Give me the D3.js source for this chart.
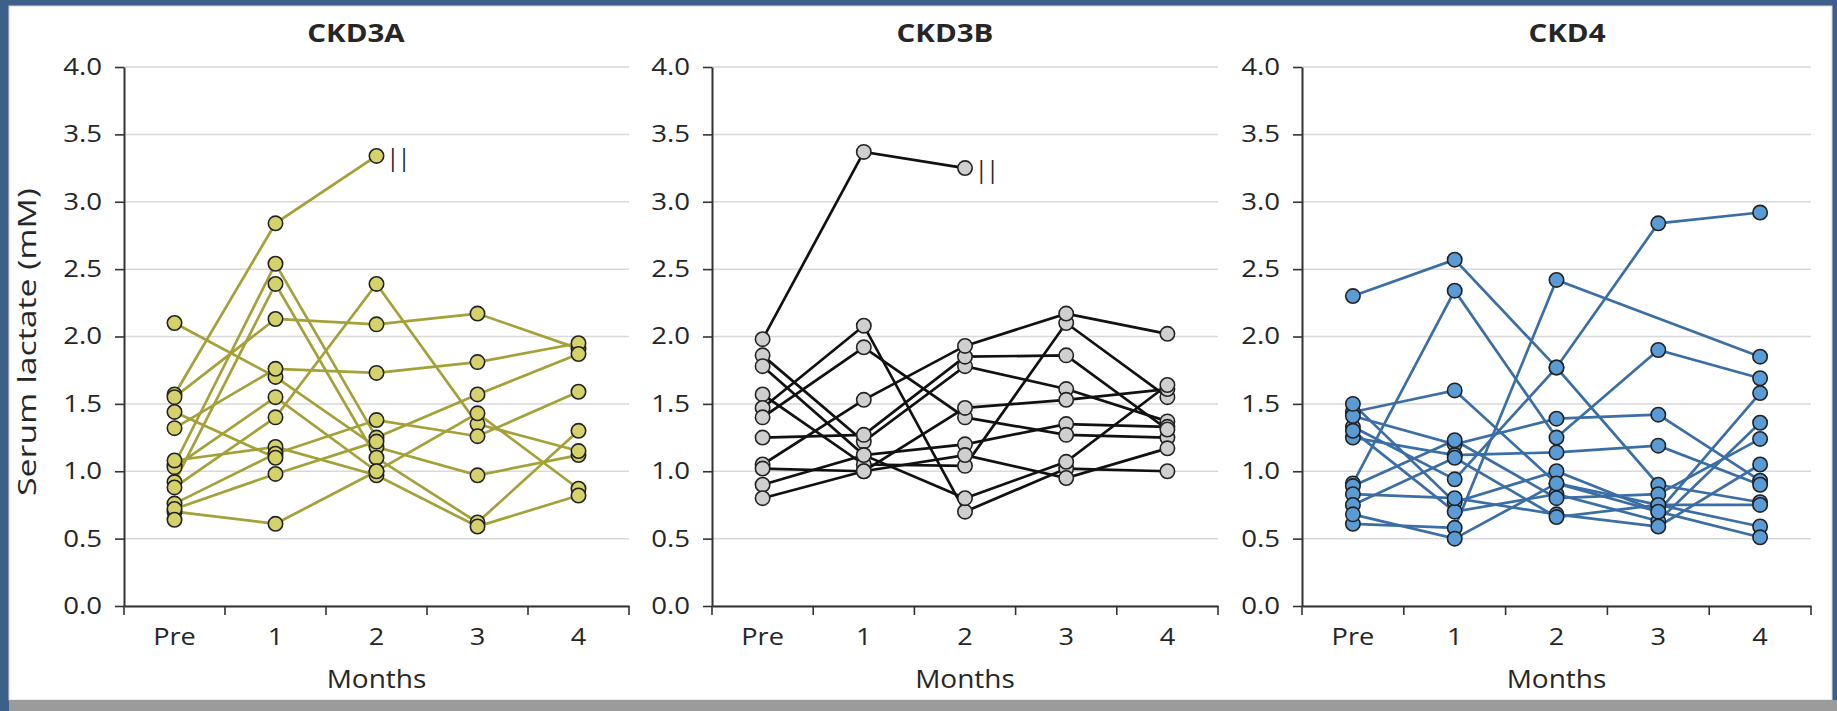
<!doctype html>
<html lang="en">
<head>
<meta charset="utf-8">
<title>Serum lactate</title>
<script src="https://d3js.org/d3.v7.min.js"></script>
<style>
  body { margin: 0; background: #3d5f8a; }
  svg { display: block; }
  text { font-family: "Open Sans", sans-serif; fill: #262626; }
</style>
</head>
<body>
<svg></svg>
<script>
// categories and tick labels
var months = ["Pre", "1", "2", "3", "4"];
var yTicks = [0, 0.5, 1, 1.5, 2, 2.5, 3, 3.5, 4];
var titles = ["CKD3A", "CKD3B", "CKD4"];

// one row per patient: Pre, 1, 2, 3, 4 months (null = no sample)
var ckd3a = [
  [1.57, 2.84, 3.34, null, null],
  [2.10, 1.70, 1.18, 0.97, 1.12],
  [1.55, 2.13, 2.09, 2.17, 1.91],
  [1.32, 1.76, 1.73, 1.81, 1.95],
  [1.05, 2.54, 1.25, 1.57, 1.87],
  [0.92, 2.39, 1.10, 0.62, 1.30],
  [0.88, 1.40, 2.39, 1.35, 1.15],
  [1.03, 1.55, 1.00, 1.43, 0.87],
  [1.08, 1.18, 0.97, 0.59, 0.82],
  [0.76, 1.13, 1.38, 1.26, 1.59],
  [0.70, 0.61, 1.00, null, null],
  [0.72, 0.98, 1.22, null, null],
  [1.44, 1.10, null, null, null],
  [0.64, null, null, null, null]
];

var ckd3b = [
  [1.98, 3.37, 3.25, null, null],
  [1.86, 1.22, 1.78, 1.61, 1.37],
  [1.78, 1.12, 1.20, 1.35, 1.33],
  [1.57, 1.05, 1.04, 2.10, 1.55],
  [1.47, 2.08, 0.70, 1.02, 1.00],
  [1.40, 1.92, 1.40, 1.27, 1.25],
  [1.25, 1.27, 1.85, 1.86, 1.31],
  [1.05, 1.53, 1.93, 2.17, 2.02],
  [1.02, 1.00, 1.47, 1.53, 1.61],
  [0.90, 1.12, 0.80, 1.07, 1.64],
  [0.80, 1.00, 1.12, 0.95, 1.17]
];

var ckd4 = [
  [2.30, 2.57, 1.77, 2.84, 2.92],
  [0.91, 2.34, 1.25, 1.90, 1.69],
  [1.44, 1.60, 0.91, 0.75, 0.59],
  [0.61, 0.58, 2.42, null, 1.85],
  [1.33, 0.94, 1.77, 0.90, 0.77],
  [1.41, 1.20, 1.39, 1.42, 0.93],
  [1.25, 1.12, 1.14, 1.19, 0.90],
  [1.50, 0.77, 1.00, 0.70, 1.58],
  [1.30, 0.70, 0.83, 0.63, 1.36],
  [0.89, 1.23, 0.80, 0.83, 1.24],
  [0.83, 0.80, 0.68, 0.59, 1.05],
  [0.75, 1.10, 0.66, 0.75, 0.75],
  [0.68, 0.50, 0.91, 0.70, 0.51]
];

// patients marked || (withdrawn), by row index
var withdrawn3a = [0];
var withdrawn3b = [0];
var withdrawn4 = [];

var W = 1837, H = 711;
var svg = d3.select("svg").attr("width", W).attr("height", H);

// the source font is wide and short: stretch glyphs sideways
function stretch(sel, k) {
  sel.each(function() {
    var len = this.getComputedTextLength();
    d3.select(this).attr("textLength", len * k).attr("lengthAdjust", "spacingAndGlyphs");
  });
}

// page frame
svg.append("rect").attr("x", 9).attr("y", 6).attr("width", 1823).attr("height", 694)
  .attr("fill", "white").attr("stroke", "#d6d6d6");
svg.append("rect").attr("x", 9).attr("y", 700).attr("width", W - 9).attr("height", 11)
  .attr("fill", "#9b9b9b");

var y = d3.scaleLinear().domain([0, 4]).range([606, 67]);

var panels = [
  {title: titles[0], data: ckd3a, out: withdrawn3a, x0: 124, x1: 629, titleX: 356, line: "#a3a137", fill: "#d5d26c"},
  {title: titles[1], data: ckd3b, out: withdrawn3b, x0: 712, x1: 1218, titleX: 945, line: "#111111", fill: "#cfcfcf"},
  {title: titles[2], data: ckd4, out: withdrawn4, x0: 1302, x1: 1811, titleX: 1567, line: "#3a6ea5", fill: "#5b9bd5"}
];

panels.forEach(function(p, pi) {
  var g = svg.append("g");
  var x = d3.scaleBand().domain(months).range([p.x0, p.x1]);
  var cx = function(i) { return x(months[i]) + x.bandwidth() / 2; };

  // gridlines
  g.selectAll(".grid").data(yTicks).enter()
    .append("line")
    .attr("x1", p.x0).attr("x2", p.x1)
    .attr("y1", function(d) { return y(d); })
    .attr("y2", function(d) { return y(d); })
    .attr("stroke", "#d9d9d9").attr("stroke-width", 1.5);

  // y axis
  var ya = g.append("g").attr("transform", "translate(" + p.x0 + ",0)")
    .call(d3.axisLeft(y).tickValues(yTicks).tickFormat(d3.format(".1f"))
      .tickSize(9).tickPadding(13).tickSizeOuter(0));

  // x axis
  var xa = g.append("g").attr("transform", "translate(0," + y(0) + ")")
    .call(d3.axisBottom(x).tickSize(0).tickPadding(23).tickSizeOuter(0));

  [ya, xa].forEach(function(a) {
    a.select(".domain").attr("stroke", "#333").attr("stroke-width", 2);
    a.selectAll(".tick line").attr("stroke", "#333").attr("stroke-width", 1.6);
    a.selectAll("text").style("font-size", "23px").attr("fill", "#262626")
      .style("font-family", "'Open Sans', sans-serif");
  });
  stretch(ya.selectAll("text"), 1.2);
  stretch(xa.selectAll("text"), 1.18);

  // ticks between the categories
  var edges = months.map(function(m) { return x(m); }).concat([p.x1]);
  g.selectAll(".xtick").data(edges).enter()
    .append("line")
    .attr("x1", function(d) { return d; }).attr("x2", function(d) { return d; })
    .attr("y1", y(0)).attr("y2", y(0) + 9)
    .attr("stroke", "#333").attr("stroke-width", 1.6);

  // titles
  g.append("text").attr("x", p.titleX).attr("y", 42)
    .attr("text-anchor", "middle").style("font-size", "25px").style("font-weight", "bold")
    .text(p.title)
    .call(stretch, 1.18);
  g.append("text").attr("x", (p.x0 + p.x1) / 2).attr("y", 688)
    .attr("text-anchor", "middle").style("font-size", "25px")
    .text("Months")
    .call(stretch, 1.12);

  if (pi === 0) {
    g.append("text").attr("transform", "translate(26,342) rotate(-90)")
      .attr("text-anchor", "middle").attr("dominant-baseline", "central")
      .style("font-size", "26px")
      .text("Serum lactate (mM)")
      .call(stretch, 1.3);
  }

  var series = p.data.map(function(row) {
    return row.map(function(v, i) { return {i: i, v: v}; })
      .filter(function(d) { return d.v !== null; });
  });

  var line = d3.line()
    .x(function(d) { return cx(d.i); })
    .y(function(d) { return y(d.v); });

  g.selectAll(".series").data(series).enter()
    .append("path")
    .attr("d", line)
    .attr("fill", "none")
    .attr("stroke", p.line)
    .attr("stroke-width", 2.7);

  var pts = [];
  series.forEach(function(s) { s.forEach(function(d) { pts.push(d); }); });
  g.selectAll(".pt").data(pts).enter()
    .append("circle")
    .attr("cx", function(d) { return cx(d.i); })
    .attr("cy", function(d) { return y(d.v); })
    .attr("r", 7.2)
    .attr("fill", p.fill)
    .attr("stroke", "#222")
    .attr("stroke-width", 1.6);

  // withdrawal mark after the last sample
  p.out.forEach(function(k) {
    var last = series[k][series[k].length - 1];
    g.append("text")
      .attr("x", cx(last.i) + 10).attr("y", y(last.v) + 1)
      .attr("dominant-baseline", "central")
      .style("font-size", "23px").style("letter-spacing", "-1.5px")
      .attr("fill", "#404040")
      .text("||");
  });
});
</script>
</body>
</html>
